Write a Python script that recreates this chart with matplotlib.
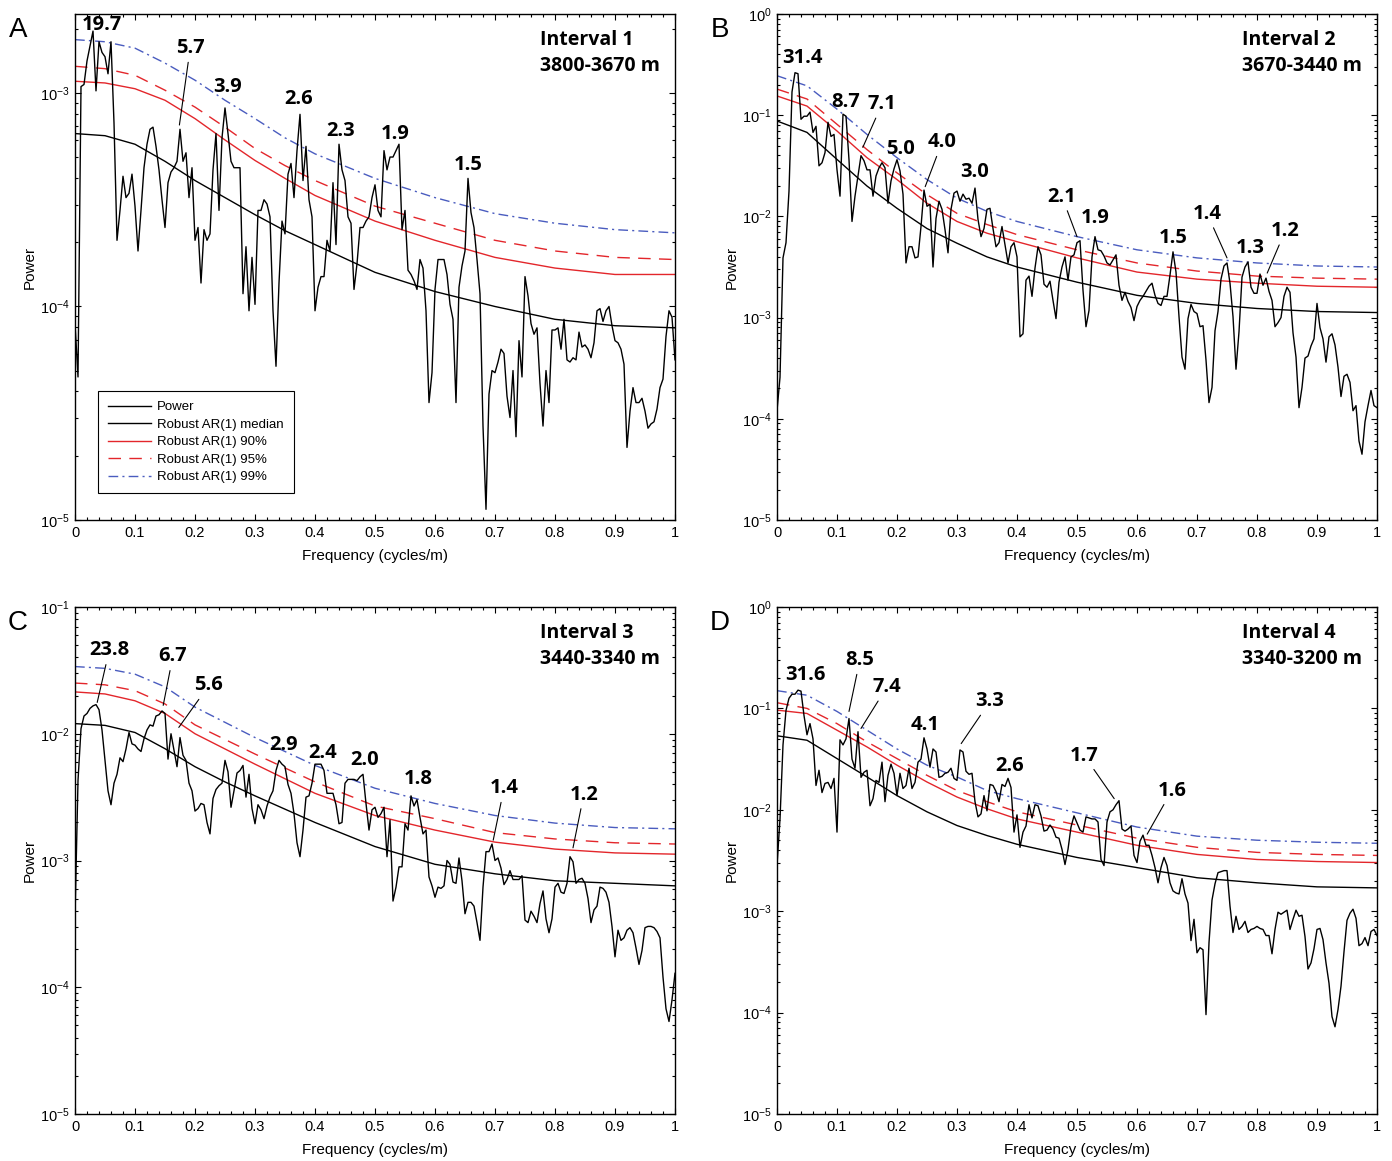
import numpy as np
import matplotlib.pyplot as plt
from matplotlib import ticker

plt.rcParams['font.family'] = ['Liberation Sans', 'DejaVu Sans']
plt.rcParams['mathtext.fontset'] = 'custom'
plt.rcParams['mathtext.rm'] = 'Liberation Sans'
plt.rcParams['mathtext.default'] = 'regular'
plt.rcParams['axes.unicode_minus'] = False

# Data: periodogram grid (cycles/m) and log10(power)
freq = np.linspace(0, 1, 201)
ar_freq = [0, 0.05, 0.1, 0.15, 0.2, 0.25, 0.3, 0.35, 0.4, 0.5, 0.6, 0.7, 0.8, 0.9, 1.0]

logp_a = [-4.08, -4.33, -2.97, -2.96, -2.85, -2.78, -2.71, -2.99, -2.76, -2.81,
          -2.83, -2.91, -2.76, -3.14, -3.69, -3.55, -3.39, -3.49, -3.47, -3.38,
          -3.53, -3.74, -3.55, -3.35, -3.24, -3.17, -3.16, -3.25, -3.36, -3.50,
          -3.63, -3.42, -3.37, -3.35, -3.32, -3.17, -3.32, -3.28, -3.49, -3.35,
          -3.69, -3.63, -3.89, -3.64, -3.69, -3.66, -3.36, -3.19, -3.55, -3.21,
          -3.07, -3.19, -3.32, -3.35, -3.35, -3.35, -3.94, -3.72, -4.02, -3.77,
          -3.99, -3.55, -3.55, -3.50, -3.52, -3.58, -4.02, -4.28, -3.89, -3.60,
          -3.66, -3.38, -3.33, -3.49, -3.27, -3.10, -3.41, -3.25, -3.50, -3.58,
          -4.02, -3.91, -3.86, -3.86, -3.69, -3.74, -3.42, -3.71, -3.24, -3.36,
          -3.41, -3.58, -3.61, -3.92, -3.80, -3.63, -3.63, -3.60, -3.58, -3.49,
          -3.43,
          -3.55, -3.58, -3.27, -3.36, -3.30, -3.30, -3.27, -3.24, -3.64, -3.55,
          -3.83, -3.85, -3.88, -3.92, -3.78, -3.82, -4.02, -4.45, -4.31, -3.92,
          -3.78, -3.78, -3.78, -3.85, -3.99, -4.06, -4.45, -3.91, -3.81, -3.74,
          -3.40, -3.56, -3.63, -3.78, -3.94, -4.56, -4.95, -4.41, -4.30, -4.31,
          -4.26, -4.20, -4.22, -4.42, -4.52, -4.30, -4.61, -4.16, -4.33, -3.86,
          -3.95, -4.08, -4.13, -4.10, -4.36, -4.56, -4.30, -4.45, -4.11, -4.11,
          -4.10, -4.20, -4.06, -4.25, -4.26, -4.24, -4.25, -4.12, -4.19, -4.18,
          -4.20, -4.24, -4.17, -4.02, -4.01, -4.07, -4.02, -4.00, -4.09, -4.16,
          -4.17, -4.20, -4.27, -4.66, -4.49, -4.38, -4.45, -4.45, -4.43, -4.49,
          -4.57, -4.55, -4.54, -4.48, -4.38, -4.34, -4.14, -4.02, -4.05, -4.25]

logp_b = [-3.92, -3.59, -2.41, -2.26, -1.75, -0.77, -0.58, -0.59, -1.04, -1.01,
          -1.01, -0.97, -1.17, -1.11, -1.50, -1.47, -1.37, -1.07, -1.21, -1.19,
          -1.54, -1.80, -0.99, -1.01, -1.44, -2.05, -1.80, -1.60, -1.40, -1.45,
          -1.54, -1.54, -1.80, -1.60, -1.52, -1.47, -1.52, -1.87, -1.65, -1.53,
          -1.44, -1.55, -1.78, -2.46, -2.30, -2.30, -2.41, -2.40, -2.10, -1.74,
          -1.90, -1.88, -2.50, -2.02, -1.85, -1.93, -2.13, -2.36, -1.93, -1.77,
          -1.75, -1.85, -1.78, -1.83, -1.82, -1.87, -1.72, -2.03, -2.20, -2.12,
          -1.93, -1.92, -2.12, -2.30, -2.26, -2.10, -2.28, -2.46, -2.30, -2.26,
          -2.40, -3.19, -3.16, -2.63, -2.59, -2.79, -2.51, -2.30, -2.38, -2.67,
          -2.70, -2.64, -2.83, -3.01, -2.65, -2.50, -2.40, -2.63, -2.40, -2.38,
          -2.26,
          -2.24, -2.73, -3.09, -2.93, -2.40, -2.20, -2.33, -2.34, -2.39, -2.46,
          -2.48, -2.43, -2.38, -2.68, -2.83, -2.75, -2.84, -2.90, -3.03, -2.89,
          -2.83, -2.79, -2.74, -2.69, -2.66, -2.78, -2.86, -2.88, -2.79, -2.79,
          -2.58, -2.35, -2.55, -2.99, -3.39, -3.51, -3.01, -2.87, -2.94, -2.96,
          -3.09, -3.08, -3.42, -3.84, -3.69, -3.13, -2.94, -2.62, -2.49, -2.46,
          -2.66, -2.99, -3.51, -3.14, -2.60, -2.50, -2.45, -2.70, -2.76, -2.76,
          -2.57, -2.68, -2.61, -2.74, -2.83, -3.09, -3.05, -3.00, -2.79, -2.70,
          -2.75, -3.15, -3.39, -3.89, -3.69, -3.40, -3.38, -3.28, -3.21, -2.86,
          -3.10, -3.21, -3.44, -3.19, -3.16, -3.27, -3.49, -3.78, -3.58, -3.56,
          -3.64, -3.92, -3.87, -4.22, -4.35, -4.03, -3.87, -3.72, -3.87, -3.89]

logp_c = [-3.45, -2.37, -1.96, -1.86, -1.84, -1.80, -1.78, -1.77, -1.81, -1.97,
          -2.21, -2.45, -2.56, -2.39, -2.32, -2.19, -2.22, -2.12, -1.99, -2.08,
          -2.09, -2.12, -2.14, -2.04, -1.97, -1.93, -1.94, -1.86, -1.85, -1.82,
          -1.84, -2.20, -2.00, -2.13, -2.26, -2.03, -2.17, -2.21, -2.39, -2.45,
          -2.61, -2.59, -2.55, -2.56, -2.70, -2.79, -2.51, -2.44, -2.41, -2.39,
          -2.21, -2.30, -2.58, -2.45, -2.31, -2.29, -2.25, -2.50, -2.32, -2.59,
          -2.71, -2.56, -2.60, -2.67, -2.57, -2.50, -2.45, -2.29, -2.21, -2.24,
          -2.26, -2.40, -2.47, -2.63, -2.86, -2.97, -2.76, -2.50, -2.49, -2.39,
          -2.24, -2.24, -2.24, -2.29, -2.47, -2.47, -2.47, -2.56, -2.71, -2.70,
          -2.39, -2.36, -2.36, -2.36, -2.37, -2.34, -2.32, -2.55, -2.76, -2.60,
          -2.58,
          -2.66, -2.63, -2.58, -2.97, -2.68, -3.32, -3.21, -3.05, -3.05, -2.71,
          -2.76, -2.49, -2.57, -2.52, -2.66, -2.79, -2.76, -3.13, -3.20, -3.29,
          -3.21, -3.22, -3.20, -3.00, -3.03, -3.17, -3.18, -2.98, -3.16, -3.42,
          -3.33, -3.33, -3.36, -3.49, -3.63, -3.21, -2.93, -2.93, -2.87, -3.00,
          -2.98, -3.06, -3.19, -3.15, -3.08, -3.15, -3.15, -3.15, -3.12, -3.47,
          -3.49, -3.40, -3.44, -3.49, -3.34, -3.24, -3.46, -3.57, -3.46, -3.21,
          -3.18, -3.25, -3.26, -3.18, -2.97, -3.01, -3.18, -3.15, -3.14, -3.18,
          -3.30, -3.49, -3.39, -3.36, -3.21, -3.22, -3.25, -3.33, -3.52, -3.76,
          -3.55, -3.63, -3.61, -3.55, -3.53, -3.57, -3.69, -3.82, -3.71, -3.53,
          -3.52, -3.52, -3.53, -3.56, -3.61, -3.92, -4.17, -4.27, -4.10, -3.89]

logp_d = [-2.55, -2.09, -1.36, -1.02, -0.90, -0.86, -0.86, -0.82, -0.83, -1.07,
          -1.26, -1.15, -1.30, -1.76, -1.61, -1.83, -1.74, -1.73, -1.79, -1.69,
          -2.22, -1.31, -1.36, -1.30, -1.10, -1.50, -1.59, -1.23, -1.68, -1.63,
          -1.61, -1.96, -1.89, -1.71, -1.73, -1.53, -1.92, -1.66, -1.55, -1.64,
          -1.86, -1.64, -1.79, -1.76, -1.59, -1.79, -1.73, -1.53, -1.50, -1.29,
          -1.40, -1.58, -1.40, -1.43, -1.68, -1.67, -1.64, -1.63, -1.59, -1.69,
          -1.71, -1.41, -1.43, -1.62, -1.65, -1.64, -1.92, -2.07, -2.04, -1.86,
          -2.01, -1.75, -1.76, -1.82, -1.92, -1.75, -1.77, -1.69, -1.78, -2.22,
          -2.05, -2.37, -2.22, -2.16, -1.95, -2.08, -1.95, -1.96, -2.06, -2.21,
          -2.20, -2.15, -2.19, -2.27, -2.28, -2.39, -2.54, -2.39, -2.17, -2.06,
          -2.13,
          -2.20, -2.22, -2.07, -2.08, -2.09, -2.09, -2.12, -2.49, -2.55, -2.12,
          -2.02, -2.00, -1.95, -1.91, -2.19, -2.21, -2.19, -2.16, -2.45, -2.52,
          -2.31, -2.25, -2.35, -2.35, -2.45, -2.57, -2.72, -2.57, -2.47, -2.55,
          -2.72, -2.80, -2.82, -2.83, -2.68, -2.83, -2.92, -3.29, -3.08, -3.41,
          -3.36, -3.38, -4.02, -3.31, -2.89, -2.73, -2.62, -2.61, -2.60, -2.60,
          -2.95, -3.21, -3.05, -3.18, -3.15, -3.10, -3.21, -3.18, -3.17, -3.15,
          -3.17, -3.18, -3.24, -3.24, -3.42, -3.18, -3.01, -3.03, -3.01, -2.99,
          -3.18, -3.08, -2.99, -3.05, -3.04, -3.25, -3.57, -3.51, -3.37, -3.18,
          -3.17, -3.28, -3.51, -3.71, -4.04, -4.14, -3.97, -3.74, -3.40, -3.09,
          -3.02, -2.98, -3.07, -3.34, -3.32, -3.26, -3.34, -3.20, -3.18, -3.24]

# Robust AR(1) median / 90 / 95 / 99 %, log10 power at ar_freq
ar_a = {'med': [-3.19, -3.20, -3.24, -3.32, -3.41, -3.49, -3.57, -3.645, -3.71, -3.84, -3.93, -4.00, -4.06, -4.09, -4.10],
        '90': [-2.945, -2.953, -2.98, -3.034, -3.12, -3.22, -3.316, -3.40, -3.48, -3.60, -3.69, -3.77, -3.82, -3.85, -3.85],
        '95': [-2.875, -2.886, -2.917, -2.987, -3.066, -3.16, -3.26, -3.34, -3.41, -3.53, -3.61, -3.69, -3.74, -3.77, -3.78],
        '99': [-2.75, -2.76, -2.79, -2.86, -2.94, -3.034, -3.12, -3.21, -3.285, -3.40, -3.49, -3.565, -3.61, -3.64, -3.655]}
ar_b = {'med': [-1.057, -1.17, -1.437, -1.70, -1.92, -2.12, -2.265, -2.40, -2.50, -2.65, -2.78, -2.86, -2.91, -2.94, -2.95],
        '90': [-0.81, -0.91, -1.156, -1.42, -1.636, -1.87, -2.05, -2.166, -2.25, -2.41, -2.55, -2.62, -2.66, -2.69, -2.70],
        '95': [-0.742, -0.84, -1.09, -1.34, -1.57, -1.785, -1.97, -2.08, -2.18, -2.33, -2.46, -2.54, -2.59, -2.61, -2.62],
        '99': [-0.61, -0.71, -0.94, -1.19, -1.42, -1.636, -1.82, -1.95, -2.05, -2.20, -2.33, -2.41, -2.46, -2.49, -2.50]}
ar_c = {'med': [-1.92, -1.934, -1.99, -2.118, -2.26, -2.38, -2.49, -2.595, -2.70, -2.89, -3.03, -3.105, -3.16, -3.18, -3.20],
        '90': [-1.67, -1.686, -1.74, -1.84, -2.00, -2.12, -2.24, -2.355, -2.47, -2.645, -2.76, -2.855, -2.91, -2.94, -2.95],
        '95': [-1.60, -1.614, -1.66, -1.765, -1.93, -2.045, -2.16, -2.27, -2.38, -2.57, -2.67, -2.78, -2.83, -2.86, -2.87],
        '99': [-1.47, -1.484, -1.53, -1.63, -1.79, -1.91, -2.03, -2.14, -2.25, -2.43, -2.55, -2.645, -2.705, -2.74, -2.75]}
ar_d = {'med': [-1.27, -1.314, -1.495, -1.676, -1.86, -2.02, -2.155, -2.254, -2.34, -2.47, -2.57, -2.67, -2.72, -2.76, -2.77],
        '90': [-1.017, -1.05, -1.215, -1.38, -1.56, -1.726, -1.874, -1.99, -2.09, -2.22, -2.35, -2.44, -2.49, -2.51, -2.52],
        '95': [-0.944, -1.0, -1.15, -1.33, -1.495, -1.66, -1.81, -1.92, -2.02, -2.15, -2.28, -2.37, -2.42, -2.44, -2.45],
        '99': [-0.825, -0.87, -1.03, -1.215, -1.40, -1.56, -1.676, -1.81, -1.89, -2.03, -2.17, -2.26, -2.30, -2.32, -2.33]}

# Peak labels (period in m): text, text freq, text log10 power, leader tip (or None)
peaks_a = [('19.7', 0.045, -2.68, None), ('5.7', 0.192, -2.79, (0.174, -3.15)),
           ('3.9', 0.255, -2.97, None), ('2.6', 0.373, -3.03, None),
           ('2.3', 0.442, -3.18, None), ('1.9', 0.533, -3.19, None),
           ('1.5', 0.655, -3.335, None)]
peaks_b = [('31.4', 0.042, -0.433, None), ('8.7', 0.115, -0.871, None),
           ('7.1', 0.175, -0.89, (0.143, -1.318)), ('5.0', 0.205, -1.338, None),
           ('4.0', 0.275, -1.268, (0.247, -1.706)), ('3.0', 0.33, -1.557, None),
           ('2.1', 0.475, -1.805, (0.50, -2.20)), ('1.9', 0.53, -2.014, None),
           ('1.5', 0.66, -2.213, None), ('1.4', 0.717, -1.974, (0.75, -2.41)),
           ('1.3', 0.788, -2.312, None), ('1.2', 0.847, -2.143, (0.817, -2.56))]
peaks_c = [('23.8', 0.057, -1.343, (0.037, -1.753)), ('6.7', 0.163, -1.39, (0.147, -1.776)),
           ('5.6', 0.223, -1.619, (0.173, -1.95)), ('2.9', 0.347, -2.092, None),
           ('2.4', 0.413, -2.148, None), ('2.0', 0.482, -2.21, None),
           ('1.8', 0.572, -2.36, None), ('1.4', 0.715, -2.43, (0.697, -2.84)),
           ('1.2', 0.848, -2.48, (0.83, -2.90))]
peaks_d = [('31.6', 0.047, -0.673, None), ('8.5', 0.138, -0.525, (0.12, -1.03)),
           ('7.4', 0.183, -0.79, (0.14, -1.198)), ('4.1', 0.247, -1.168, None),
           ('3.3', 0.355, -0.93, (0.307, -1.347)), ('2.6', 0.387, -1.564, None),
           ('1.7', 0.512, -1.465, (0.562, -1.89)), ('1.6', 0.658, -1.81, (0.617, -2.24))]

panels = [
    ('A', 'Interval 1', '3800-3670 m', logp_a, ar_a, peaks_a, 10 ** -2.63,
     [75, 14, 600, 506]),
    ('B', 'Interval 2', '3670-3440 m', logp_b, ar_b, peaks_b, 1.0,
     [777, 14, 600, 506]),
    ('C', 'Interval 3', '3440-3340 m', logp_c, ar_c, peaks_c, 1e-1,
     [75, 607, 600, 507]),
    ('D', 'Interval 4', '3340-3200 m', logp_d, ar_d, peaks_d, 1.0,
     [777, 607, 600, 507]),
]

W, H = 1392, 1161
fig = plt.figure(figsize=(W / 100, H / 100), dpi=100)

red = '#e3262b'
blue = '#4a5cbf'
bold = dict(family=['Open Sans', 'DejaVu Sans'], fontweight='bold')

for letter, interval, depth, logp, ar, peaks, ytop, (px, py, pw, ph) in panels:
    ax = fig.add_axes([px / W, 1 - (py + ph) / H, pw / W, ph / H])
    ax.set_yscale('log')

    h_med, = ax.plot(ar_freq, 10 ** np.array(ar['med']), color='black', lw=1.0)
    h90, = ax.plot(ar_freq, 10 ** np.array(ar['90']), color=red, lw=1.0)
    h95, = ax.plot(ar_freq, 10 ** np.array(ar['95']), color=red, lw=1.0, dashes=(9, 6))
    h99, = ax.plot(ar_freq, 10 ** np.array(ar['99']), color=blue, lw=1.0,
                   dashes=(7, 3, 1.5, 3))
    h_pow, = ax.plot(freq, 10 ** np.array(logp), color='black', lw=1.0)

    ax.set_xlim(0, 1)
    ax.set_ylim(1e-5, ytop)
    ax.xaxis.set_major_locator(ticker.MultipleLocator(0.1))
    ax.xaxis.set_minor_locator(ticker.MultipleLocator(0.02))
    ax.xaxis.set_major_formatter(ticker.FormatStrFormatter('%g'))
    ax.yaxis.set_major_locator(ticker.LogLocator(base=10, numticks=10))
    ax.yaxis.set_minor_locator(ticker.LogLocator(base=10, subs=np.arange(2, 10), numticks=20))
    ax.yaxis.set_minor_formatter(ticker.NullFormatter())
    ax.tick_params(which='both', direction='in', top=True, right=True,
                   labelsize=10.5, width=0.8)
    ax.tick_params(which='major', length=4.5, pad=4)
    ax.tick_params(which='minor', length=2.3)
    for s in ax.spines.values():
        s.set_linewidth(1.0)

    ax.set_xlabel('Frequency (cycles/m)', fontsize=11, labelpad=7)
    ax.set_ylabel('Power', fontsize=11, labelpad=2)

    for txt, tx, ty, tip in peaks:
        if tip is None:
            ax.text(tx, 10 ** ty, txt, ha='center', va='center', fontsize=14.5, **bold)
        else:
            ax.annotate(txt, xy=(tip[0], 10 ** tip[1]), xytext=(tx, 10 ** ty),
                        ha='center', va='center', fontsize=14.5, **bold,
                        arrowprops=dict(arrowstyle='-', lw=0.8, color='black',
                                        shrinkA=1, shrinkB=0))

    ax.text(0.775, 0.948, interval, transform=ax.transAxes, ha='left', va='center',
            fontsize=14, **bold)
    ax.text(0.775, 0.897, depth, transform=ax.transAxes, ha='left', va='center',
            fontsize=14, **bold)

    fig.text((px - 57) / W, 1 - (py + 16) / H, letter, fontsize=20,
             ha='center', va='center')

    if letter == 'A':
        leg = ax.legend([h_pow, h_med, h90, h95, h99],
                        ['Power', 'Robust AR(1) median', 'Robust AR(1) 90%',
                         'Robust AR(1) 95%', 'Robust AR(1) 99%'],
                        loc='lower left', bbox_to_anchor=(0.038, 0.053),
                        borderaxespad=0, fontsize=9.5, handlelength=3.3,
                        handletextpad=0.45, labelspacing=0.4, borderpad=0.75,
                        fancybox=False, framealpha=1, edgecolor='black')
        leg.get_frame().set_linewidth(0.8)

plt.savefig('out.png', dpi=100)
